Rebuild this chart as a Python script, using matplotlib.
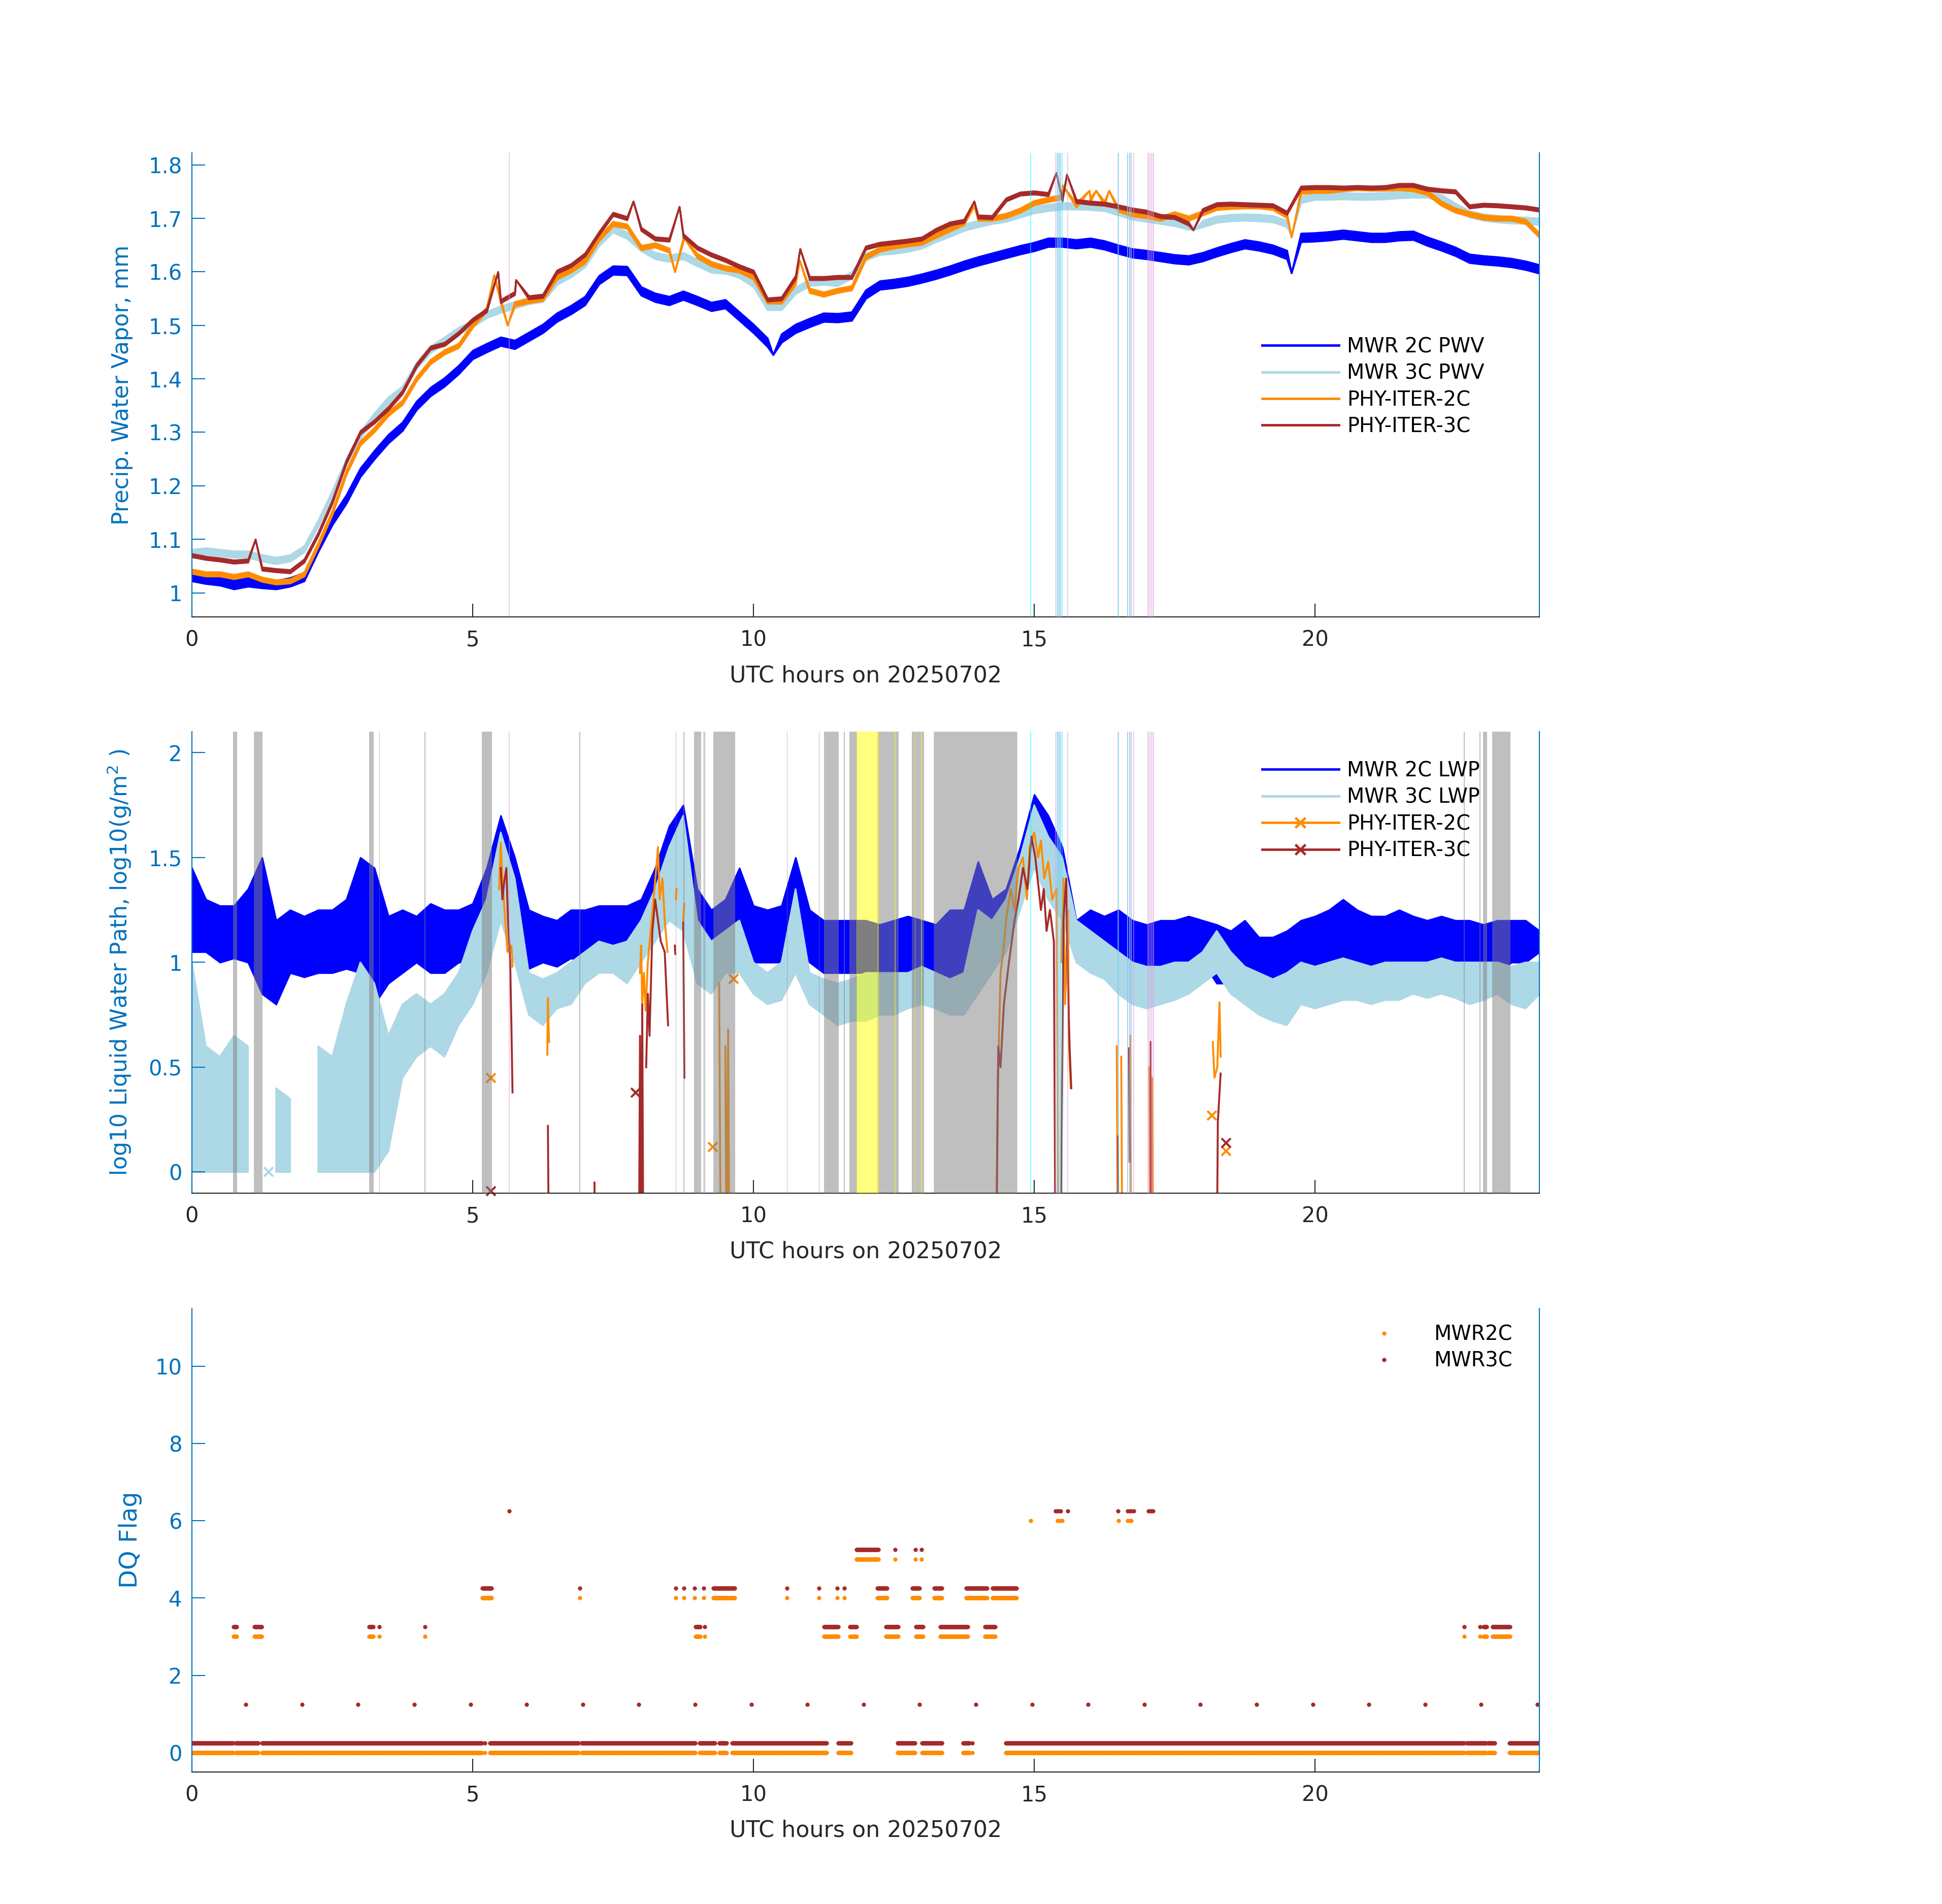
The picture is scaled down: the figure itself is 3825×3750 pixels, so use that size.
import numpy as np
import matplotlib
matplotlib.use('Agg')
import matplotlib.pyplot as plt
from matplotlib.lines import Line2D
from matplotlib.ticker import FormatStrFormatter

plt.rcParams['font.family'] = ['DejaVu Sans']

AX_BLUE = '#0072BD'
DARK = '#262626'
C_2C = '#0000FF'
C_3C = '#ADD8E6'
C_P2 = '#FF8C00'
C_P3 = '#A52A2A'

# time grid, UTC hours (every 15 min)
hours = np.arange(97) * 0.25

# ---------------- precipitable water vapour (mm), centre values ----------------
pwv_2c = [1.030, 1.025, 1.022, 1.015, 1.020, 1.017, 1.015, 1.020, 1.030, 1.085,
          1.135, 1.175, 1.225, 1.258, 1.288, 1.311, 1.350, 1.376, 1.394, 1.417,
          1.445, 1.458, 1.470, 1.464, 1.479, 1.494, 1.515, 1.529, 1.546, 1.585,
          1.603, 1.602, 1.564, 1.552, 1.546, 1.556, 1.546, 1.535, 1.540, 1.517,
          1.494, 1.468, 1.476, 1.494, 1.505, 1.515, 1.514, 1.517, 1.558, 1.575,
          1.578, 1.582, 1.588, 1.595, 1.603, 1.612, 1.620, 1.627, 1.634, 1.641,
          1.647, 1.655, 1.655, 1.652, 1.655, 1.650, 1.642, 1.635, 1.632, 1.628,
          1.624, 1.622, 1.628, 1.637, 1.645, 1.652, 1.648, 1.642, 1.632, 1.664,
          1.665, 1.667, 1.670, 1.667, 1.664, 1.664, 1.667, 1.668, 1.657, 1.648,
          1.638, 1.625, 1.622, 1.620, 1.617, 1.612, 1.605]
pwv_3c = [1.075, 1.078, 1.075, 1.072, 1.072, 1.065, 1.060, 1.065, 1.082, 1.130,
          1.185, 1.245, 1.295, 1.330, 1.360, 1.380, 1.425, 1.455, 1.472, 1.490,
          1.503, 1.520, 1.530, 1.538, 1.546, 1.550, 1.582, 1.596, 1.615, 1.655,
          1.680, 1.668, 1.645, 1.630, 1.625, 1.630, 1.617, 1.605, 1.603, 1.595,
          1.578, 1.535, 1.535, 1.565, 1.580, 1.582, 1.580, 1.594, 1.628, 1.638,
          1.640, 1.644, 1.650, 1.662, 1.672, 1.683, 1.690, 1.696, 1.700, 1.708,
          1.716, 1.720, 1.723, 1.723, 1.722, 1.720, 1.712, 1.704, 1.700, 1.696,
          1.692, 1.685, 1.690, 1.698, 1.701, 1.702, 1.701, 1.699, 1.690, 1.735,
          1.741, 1.741, 1.742, 1.741, 1.741, 1.742, 1.744, 1.745, 1.745, 1.738,
          1.722, 1.708, 1.702, 1.699, 1.697, 1.696, 1.694]
pwv_p2 = [1.040, 1.035, 1.035, 1.030, 1.035, 1.025, 1.020, 1.022, 1.035, 1.090,
          1.150, 1.225, 1.280, 1.305, 1.335, 1.356, 1.400, 1.432, 1.450, 1.462,
          1.500, 1.530, 1.545, 1.540, 1.546, 1.550, 1.590, 1.603, 1.620, 1.662,
          1.690, 1.685, 1.645, 1.650, 1.640, 1.660, 1.630, 1.615, 1.607, 1.603,
          1.590, 1.545, 1.545, 1.580, 1.565, 1.558, 1.565, 1.570, 1.628, 1.642,
          1.648, 1.652, 1.655, 1.668, 1.680, 1.692, 1.700, 1.700, 1.705, 1.715,
          1.729, 1.735, 1.740, 1.725, 1.735, 1.728, 1.717, 1.708, 1.705, 1.700,
          1.708, 1.700, 1.710, 1.720, 1.722, 1.723, 1.723, 1.720, 1.705, 1.750,
          1.752, 1.752, 1.755, 1.757, 1.756, 1.756, 1.757, 1.755, 1.748, 1.728,
          1.715, 1.708, 1.702, 1.700, 1.700, 1.694, 1.668]
pwv_p3 = [1.070, 1.065, 1.062, 1.058, 1.060, 1.045, 1.042, 1.040, 1.060, 1.110,
          1.170, 1.245, 1.300, 1.320, 1.345, 1.375, 1.425, 1.458, 1.465, 1.485,
          1.510, 1.528, 1.545, 1.560, 1.552, 1.555, 1.600, 1.612, 1.632, 1.672,
          1.708, 1.700, 1.680, 1.662, 1.660, 1.668, 1.645, 1.632, 1.622, 1.610,
          1.600, 1.548, 1.550, 1.590, 1.588, 1.588, 1.590, 1.590, 1.645, 1.652,
          1.655, 1.658, 1.662, 1.678, 1.690, 1.695, 1.703, 1.702, 1.735, 1.746,
          1.748, 1.745, 1.735, 1.732, 1.729, 1.727, 1.722, 1.716, 1.712, 1.704,
          1.702, 1.690, 1.715, 1.726, 1.727, 1.726, 1.725, 1.724, 1.710, 1.757,
          1.758, 1.758, 1.757, 1.758, 1.757, 1.758, 1.762, 1.762, 1.755, 1.752,
          1.750, 1.722, 1.725, 1.724, 1.722, 1.720, 1.716]
# half width of the measurement noise for each PWV trace (mm)
pwv_noise = {'2c': 0.008, '3c': 0.006, 'p2': 0.004, 'p3': 0.003}

# short spikes / dips that fall between grid points (hour, mm)
pwv_2c_spk_t = [10.35, 19.58]
pwv_2c_spk_v = [1.445, 1.598]
pwv_3c_spk_t = [17.87, 19.58]
pwv_3c_spk_v = [1.680, 1.668]
pwv_p2_spk_t = [5.38, 5.62, 8.60, 8.76, 10.82, 13.93, 15.50, 15.98, 16.10, 16.33, 19.58]
pwv_p2_spk_v = [1.594, 1.500, 1.600, 1.664, 1.622, 1.723, 1.762, 1.752, 1.752, 1.752, 1.665]
pwv_p3_spk_t = [1.13, 5.45, 5.77, 7.86, 8.68, 10.83, 13.93, 15.39, 15.58, 17.83]
pwv_p3_spk_v = [1.100, 1.600, 1.585, 1.732, 1.722, 1.643, 1.732, 1.785, 1.782, 1.678]

# ---------------- log10 liquid water path, lower / upper envelope ----------------
nan = np.nan
lwp_2c_lo = [1.05, 1.05, 1.00, 1.02, 1.00, 0.85, 0.80, 0.95, 0.93, 0.95, 0.95, 0.97,
             0.95, 0.80, 0.90, 0.95, 1.00, 0.95, 0.95, 1.00, 1.00, 1.10, 1.30, 1.10,
             0.97, 1.00, 0.98, 1.02, 1.00, 1.05, 1.05, 1.05, 1.05, 1.15, 1.20, 1.20,
             1.00, 1.05, 1.05, 1.00, 1.00, 1.00, 1.00, 1.10, 1.00, 0.95, 0.95, 0.95,
             0.95, 0.95, 0.95, 0.95, 0.95, 0.95, 0.90, 0.95, 1.00, 1.05, 1.15, 1.30,
             1.50, 1.35, 1.25, 1.05, 1.05, 1.00, 0.95, 0.95, 0.95, 0.95, 0.92, 0.95,
             1.00, 0.90, 0.90, 0.85, 0.85, 0.75, 0.90, 0.95, 0.95, 1.00, 1.00, 1.00,
             0.98, 0.95, 0.97, 0.97, 0.95, 0.97, 0.95, 0.92, 0.95, 0.95, 1.00, 1.00,
             1.05]
lwp_2c_hi = [1.45, 1.30, 1.27, 1.27, 1.35, 1.50, 1.20, 1.25, 1.22, 1.25, 1.25, 1.30,
             1.50, 1.45, 1.22, 1.25, 1.22, 1.28, 1.25, 1.25, 1.28, 1.45, 1.70, 1.50,
             1.25, 1.22, 1.20, 1.25, 1.25, 1.27, 1.27, 1.27, 1.30, 1.45, 1.65, 1.75,
             1.35, 1.25, 1.30, 1.45, 1.27, 1.25, 1.27, 1.50, 1.25, 1.20, 1.20, 1.20,
             1.20, 1.18, 1.20, 1.22, 1.20, 1.18, 1.25, 1.25, 1.48, 1.30, 1.35, 1.55,
             1.80, 1.70, 1.55, 1.20, 1.25, 1.22, 1.25, 1.20, 1.18, 1.20, 1.20, 1.22,
             1.20, 1.18, 1.15, 1.20, 1.12, 1.12, 1.15, 1.20, 1.22, 1.25, 1.30, 1.25,
             1.22, 1.22, 1.25, 1.22, 1.20, 1.22, 1.20, 1.20, 1.18, 1.20, 1.20, 1.20,
             1.15]
lwp_3c_lo = [0.00, 0.00, 0.00, 0.00, 0.00, nan, 0.00, 0.00, nan, 0.00, 0.00, 0.00,
             0.00, 0.00, 0.10, 0.45, 0.55, 0.60, 0.55, 0.70, 0.80, 0.95, 1.20, 1.00,
             0.75, 0.70, 0.78, 0.80, 0.90, 0.95, 0.95, 0.90, 1.00, 1.10, 1.20, 1.15,
             0.90, 0.85, 0.95, 0.95, 0.85, 0.80, 0.82, 0.95, 0.80, 0.75, 0.70, 0.72,
             0.72, 0.75, 0.75, 0.78, 0.80, 0.78, 0.75, 0.75, 0.85, 0.95, 1.05, 1.25,
             1.45, 1.30, 1.20, 1.00, 0.95, 0.92, 0.85, 0.80, 0.78, 0.80, 0.82, 0.85,
             0.90, 0.95, 0.85, 0.80, 0.75, 0.72, 0.70, 0.80, 0.78, 0.80, 0.82, 0.82,
             0.80, 0.82, 0.82, 0.85, 0.83, 0.85, 0.83, 0.80, 0.82, 0.85, 0.80, 0.78,
             0.85]
lwp_3c_hi = [1.00, 0.60, 0.55, 0.65, 0.60, nan, 0.40, 0.35, nan, 0.60, 0.55, 0.80,
             1.00, 0.90, 0.65, 0.80, 0.85, 0.80, 0.85, 0.95, 1.15, 1.30, 1.62, 1.40,
             0.95, 0.92, 0.95, 1.00, 1.05, 1.10, 1.08, 1.10, 1.20, 1.35, 1.55, 1.70,
             1.20, 1.10, 1.15, 1.20, 1.00, 0.95, 1.00, 1.35, 0.95, 0.92, 0.90, 0.92,
             0.95, 0.95, 0.95, 0.95, 0.98, 0.95, 0.92, 0.95, 1.25, 1.20, 1.30, 1.50,
             1.75, 1.60, 1.50, 1.20, 1.15, 1.10, 1.05, 1.00, 0.98, 0.98, 1.00, 1.00,
             1.05, 1.15, 1.05, 0.98, 0.95, 0.92, 0.95, 1.00, 0.98, 1.00, 1.02, 1.00,
             0.98, 1.00, 1.00, 1.00, 1.00, 1.02, 1.00, 1.00, 1.00, 1.00, 0.98, 1.00,
             1.00]
lwp_3c_pt_t = [1.37]
lwp_3c_pt_v = [0.00]

# physical retrievals: sparse, nan separates pieces, -0.5 is below the axis
lwp_p2_t = [5.47, 5.50, 5.53, 5.58, 5.62, 5.69, 5.71, nan,
            6.33, 6.34, 6.36, nan,
            7.98, 8.00, 8.02, 8.05, 8.08, 8.12, 8.17, 8.22, 8.27, 8.30, 8.33, 8.38,
            8.42, 8.47, nan, 8.62, 8.63, nan, 8.75, 8.77, nan,
            9.39, 9.40, 9.42, nan, 9.50, 9.52, 9.55, 9.57, nan,
            14.32, 14.35, 14.40, 14.45, 14.50, 14.58, 14.65, 14.72, 14.80, 14.87,
            14.92, 15.00, 15.07, 15.12, 15.18, 15.25, 15.32, 15.40, 15.43, nan,
            15.48, 15.52, 15.55, 15.60, 15.62, 15.65, nan,
            16.47, 16.49, nan, 16.55, 16.57, nan, 16.71, 16.73, nan,
            17.05, 17.07, 17.10, 17.12, nan,
            18.18, 18.21, 18.26, 18.30, 18.32]
lwp_p2_v = [1.35, 1.57, 1.40, 1.20, 1.05, 1.08, 0.98, nan,
            0.56, 0.83, 0.62, nan,
            0.95, 1.08, 0.80, 0.95, 0.77, 1.00, 1.15, 1.30, 1.45, 1.55, 1.30, 1.40,
            1.20, 1.05, nan, 1.30, 1.35, nan, 1.20, 1.28, nan,
            0.90, 0.38, -0.5, nan, 0.60, -0.5, 0.68, -0.5, nan,
            -0.5, 0.40, 0.95, 1.05, 1.20, 1.35, 1.25, 1.45, 1.50, 1.30,
            1.55, 1.62, 1.50, 1.58, 1.40, 1.48, 1.30, 1.35, -0.5, nan,
            1.00, 1.40, 0.80, 1.25, 0.60, 0.40, nan,
            0.60, -0.5, nan, 0.55, -0.5, nan, 0.65, -0.5, nan,
            0.50, -0.5, 0.45, -0.5, nan,
            0.62, 0.45, 0.50, 0.81, 0.55]
lwp_p2_pt_t = [5.33, 9.28, 9.65, 18.16, 18.42]
lwp_p2_pt_v = [0.45, 0.12, 0.92, 0.27, 0.10]

lwp_p3_t = [5.50, 5.53, 5.56, 5.60, 5.63, 5.67, 5.69, 5.71, nan,
            6.34, 6.36, nan, 7.17, 7.18, nan,
            7.96, 7.98, 8.00, 8.02, 8.04, nan,
            8.09, 8.12, 8.15, 8.20, 8.25, 8.30, 8.35, 8.42, 8.48, nan,
            8.60, 8.61, nan, 8.75, 8.77, nan,
            14.32, 14.36, 14.40, 14.46, 14.55, 14.65, 14.72, 14.80, 14.88, 14.95,
            15.02, 15.08, 15.12, 15.17, 15.22, 15.28, 15.35, 15.38, nan,
            15.47, 15.52, 15.57, 15.60, 15.63, 15.66, nan,
            16.49, 16.50, nan, 16.69, 16.70, nan, 17.07, 17.08, nan,
            18.25, 18.27, 18.32]
lwp_p3_v = [1.45, 1.30, 1.38, 1.45, 1.20, 0.98, 0.70, 0.38, nan,
            0.22, -0.5, nan, -0.05, -0.5, nan,
            -0.5, 0.65, -0.5, 0.80, -0.5, nan,
            0.50, 0.85, 0.65, 1.15, 1.30, 1.20, 1.10, 1.05, 0.70, nan,
            1.08, 1.04, nan, 1.19, 0.45, nan,
            -0.5, 0.60, 0.50, 0.80, 1.00, 1.20, 1.30, 1.45, 1.35, 1.60,
            1.50, 1.35, 1.25, 1.35, 1.15, 1.25, 1.10, -0.5, nan,
            -0.5, 1.20, 1.40, 0.90, 0.60, 0.40, nan,
            0.17, -0.5, nan, 0.59, 0.05, nan, 0.62, -0.5, nan,
            -0.5, 0.24, 0.47]
lwp_p3_pt_t = [5.33, 7.90, 18.42]
lwp_p3_pt_v = [-0.09, 0.38, 0.14]

# ---------------- data quality flags ----------------
# runs of samples: (start hour, end hour)
dq_flag0 = [(0.00, 0.74), (0.78, 1.18), (1.25, 5.17), (5.22, 5.22), (5.31, 6.89),
            (6.94, 8.97), (9.04, 9.32), (9.39, 9.53), (9.62, 11.31), (11.51, 11.74),
            (12.57, 12.88), (13.00, 13.36), (13.73, 13.85), (13.90, 13.90),
            (14.49, 22.66), (22.70, 23.05), (23.08, 23.20), (23.46, 24.00)]
dq_flag3 = [(0.74, 0.80), (1.11, 1.25), (3.16, 3.23), (3.34, 3.34), (4.15, 4.15),
            (8.97, 9.06), (9.13, 9.13), (11.26, 11.51), (11.72, 11.84), (12.36, 12.58),
            (12.89, 13.03), (13.33, 13.82), (14.12, 14.31), (22.66, 22.66),
            (22.94, 22.94), (23.00, 23.06), (23.16, 23.47)]
dq_flag4 = [(5.17, 5.34), (6.91, 6.91), (8.62, 8.62), (8.76, 8.76), (8.95, 8.95),
            (9.11, 9.11), (9.29, 9.67), (10.60, 10.60), (11.17, 11.17), (11.49, 11.49),
            (11.62, 11.62), (12.21, 12.38), (12.83, 12.96), (13.22, 13.36),
            (13.79, 14.16), (14.26, 14.69)]
dq_flag5 = [(11.84, 12.23), (12.52, 12.52), (12.88, 12.88), (12.99, 12.99)]
# isolated samples (hour)
dq_flag6_2c = [14.94, 15.42, 15.46, 15.50, 16.50, 16.66, 16.70, 16.73]
dq_flag6_3c = [5.65, 15.38, 15.41, 15.44, 15.47, 15.60, 16.49, 16.66, 16.70, 16.73,
               16.77, 17.03, 17.06, 17.09, 17.12]
dq_flag1_3c = [0.96, 1.96, 2.96, 3.96, 4.96, 5.96, 6.96, 7.96, 8.96, 9.96, 10.96, 11.96,
               12.96, 13.96, 14.96, 15.96, 16.96, 17.96, 18.96, 19.96, 20.96, 21.96,
               22.96, 23.96]
dq_3c_offset = 0.25


def band(ax, t, lo, hi, color, lw=0.9):
    # a noisy trace drawn as the band between its lower and upper envelope
    ax.fill_between(t, lo, hi, facecolor=color, edgecolor=color, lw=lw)


def pwv_band(ax, center, half, spk_t, spk_v, color):
    c = np.asarray(center)
    t = np.concatenate([hours, spk_t])
    lo = np.concatenate([c - half, spk_v])
    hi = np.concatenate([c + half, spk_v])
    order = np.argsort(t, kind='stable')
    band(ax, t[order], lo[order], hi[order], color, lw=1.0)


def seg_samples(segs, step=1 / 120):
    out = []
    for a, b in segs:
        out.append(np.arange(a, b + 1e-9, step) if b > a else np.array([a]))
    return np.concatenate(out)


tfine = np.linspace(0, 24, 24 * 400 + 1)


def seg_mask(segs, pad):
    m = np.zeros(tfine.shape, bool)
    for a, b in segs:
        m |= (tfine >= a - pad) & (tfine <= b + pad)
    return m


def shade(ax, segs, color, alpha, pad=0.008):
    ax.fill_between(tfine, 0, 1, where=seg_mask(segs, pad), transform=ax.get_xaxis_transform(),
                    color=color, alpha=alpha, lw=0, zorder=5)


def shade_points(ax, times, color, alpha):
    shade(ax, [(t, t) for t in times], color, alpha, pad=0.011)


def style(ax, ylim, yticks, ylabel, lab_x, lab_size):
    ax.set_xlim(0, 24)
    ax.set_ylim(*ylim)
    ax.set_xticks([0, 5, 10, 15, 20])
    ax.set_yticks(yticks)
    ax.yaxis.set_major_formatter(FormatStrFormatter('%g'))
    ax.tick_params(axis='x', direction='in', length=7.5, width=0.6, colors=DARK,
                   labelsize=12, pad=7, top=False)
    ax.tick_params(axis='y', direction='in', length=7.5, width=0.6, colors=AX_BLUE,
                   labelsize=12, pad=5.5, right=False)
    ax.spines['top'].set_visible(False)
    for s in ('left', 'right'):
        ax.spines[s].set_color(AX_BLUE)
        ax.spines[s].set_linewidth(0.6)
    ax.spines['bottom'].set_color(DARK)
    ax.spines['bottom'].set_linewidth(0.6)
    ax.set_xlabel('UTC hours on 20250702', fontsize=12.8, color=DARK, labelpad=8)
    ax.set_ylabel(ylabel, fontsize=lab_size, color=AX_BLUE)
    ax.yaxis.set_label_coords(lab_x, 0.5)


fig = plt.figure(figsize=(15.3, 15.0), dpi=250)
ax1 = fig.add_axes([0.0988, 0.676, 0.694, 0.2436])
ax2 = fig.add_axes([0.0988, 0.3734, 0.694, 0.2423])
ax3 = fig.add_axes([0.0988, 0.0694, 0.694, 0.2435])

LW = 1.1
leg_kw = dict(loc='upper left', frameon=False, fontsize=11.5, handlelength=3.8,
              labelspacing=0.31, borderpad=0, borderaxespad=0)

# --- panel 1: PWV ---
pwv_band(ax1, pwv_2c, pwv_noise['2c'], pwv_2c_spk_t, pwv_2c_spk_v, C_2C)
pwv_band(ax1, pwv_3c, pwv_noise['3c'], pwv_3c_spk_t, pwv_3c_spk_v, C_3C)
pwv_band(ax1, pwv_p2, pwv_noise['p2'], pwv_p2_spk_t, pwv_p2_spk_v, C_P2)
pwv_band(ax1, pwv_p3, pwv_noise['p3'], pwv_p3_spk_t, pwv_p3_spk_v, C_P3)
shade_points(ax1, dq_flag6_2c, '#00FFFF', 0.5)
shade_points(ax1, dq_flag6_3c, '#DDA0DD', 0.5)
style(ax1, (0.955, 1.822), [1, 1.1, 1.2, 1.3, 1.4, 1.5, 1.6, 1.7, 1.8],
      'Precip. Water Vapor, mm', -0.0437, 12.8)
h1 = [Line2D([], [], color=c, lw=1.4) for c in (C_2C, C_3C, C_P2, C_P3)]
ax1.legend(h1, ['MWR 2C PWV', 'MWR 3C PWV', 'PHY-ITER-2C', 'PHY-ITER-3C'],
           bbox_to_anchor=(0.794, 0.604), handletextpad=0.4, **leg_kw)

# --- panel 2: LWP ---
band(ax2, hours, lwp_2c_lo, lwp_2c_hi, C_2C)
band(ax2, hours, lwp_3c_lo, lwp_3c_hi, C_3C)
ax2.plot(lwp_3c_pt_t, lwp_3c_pt_v, 'x', color=C_3C, ms=5, mew=1.2)
ax2.plot(lwp_p2_t, lwp_p2_v, color=C_P2, lw=LW)
ax2.plot(lwp_p2_pt_t, lwp_p2_pt_v, 'x', color=C_P2, ms=5, mew=1.2)
ax2.plot(lwp_p3_t, lwp_p3_v, color=C_P3, lw=LW)
ax2.plot(lwp_p3_pt_t, lwp_p3_pt_v, 'x', color=C_P3, ms=5, mew=1.2, clip_on=False)
shade(ax2, dq_flag3 + dq_flag4, '#808080', 0.5)
shade(ax2, dq_flag5, '#FFFF00', 0.5)
shade_points(ax2, dq_flag6_2c, '#00FFFF', 0.5)
shade_points(ax2, dq_flag6_3c, '#DDA0DD', 0.5)
style(ax2, (-0.1, 2.1), [0, 0.5, 1, 1.5, 2],
      r'log10 Liquid Water Path, log10(g/m$^{2}$ )', -0.0437, 12.8)
h2 = [Line2D([], [], color=C_2C, lw=1.4), Line2D([], [], color=C_3C, lw=1.4),
      Line2D([], [], color=C_P2, lw=1.4, marker='x', ms=6, mew=1.4),
      Line2D([], [], color=C_P3, lw=1.4, marker='x', ms=6, mew=1.4)]
ax2.legend(h2, ['MWR 2C LWP', 'MWR 3C LWP', 'PHY-ITER-2C', 'PHY-ITER-3C'],
           bbox_to_anchor=(0.794, 0.937), handletextpad=0.4, **leg_kw)

# --- panel 3: DQ flags ---
MS = 2.4
for segs, val in [(dq_flag0, 0), (dq_flag3, 3), (dq_flag4, 4), (dq_flag5, 5)]:
    ts = seg_samples(segs)
    ax3.plot(ts, np.full(ts.shape, val), 'o', color=C_P2, ms=MS, mew=0)
ax3.plot(dq_flag6_2c, np.full(len(dq_flag6_2c), 6), 'o', color=C_P2, ms=MS, mew=0)
for segs, val in [(dq_flag0, 0), (dq_flag3, 3), (dq_flag4, 4), (dq_flag5, 5)]:
    ts = seg_samples(segs)
    ax3.plot(ts, np.full(ts.shape, val + dq_3c_offset), 'o', color=C_P3, ms=MS, mew=0)
ax3.plot(dq_flag6_3c, np.full(len(dq_flag6_3c), 6 + dq_3c_offset), 'o', color=C_P3,
         ms=MS, mew=0)
ax3.plot(dq_flag1_3c, np.full(len(dq_flag1_3c), 1 + dq_3c_offset), 'o', color=C_P3,
         ms=MS, mew=0, clip_on=False)
style(ax3, (-0.5, 11.5), [0, 2, 4, 6, 8, 10], 'DQ Flag', -0.037, 13.8)
h3 = [Line2D([], [], color=C_P2, ls='none', marker='o', ms=MS, mew=0),
      Line2D([], [], color=C_P3, ls='none', marker='o', ms=MS, mew=0)]
ax3.legend(h3, ['MWR2C', 'MWR3C'], bbox_to_anchor=(0.856, 0.965),
           handletextpad=0.55, **leg_kw)

fig.savefig('out.png', dpi=250)
